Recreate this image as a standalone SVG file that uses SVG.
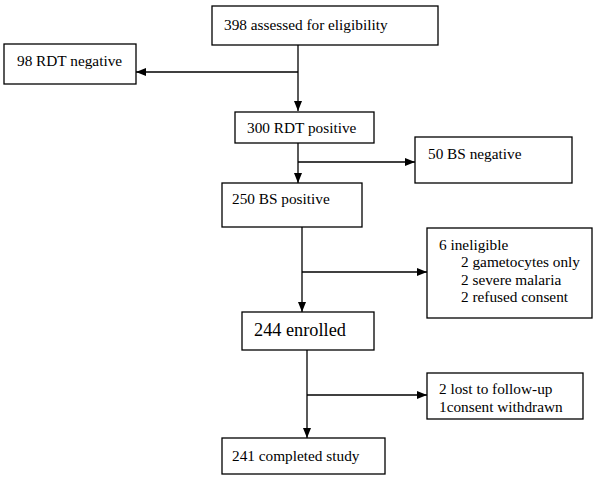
<svg xmlns="http://www.w3.org/2000/svg" width="600" height="478" viewBox="0 0 600 478">
<defs>
<marker id="ah" viewBox="0 0 10 10" refX="10" refY="5" markerWidth="10" markerHeight="10" markerUnits="userSpaceOnUse" orient="auto">
<path d="M0,1 L10,5 L0,9 Z" fill="#000"/>
</marker>
</defs>
<style>
.b{fill:#fff;stroke:#000;stroke-width:1.3}
.c{stroke:#000;stroke-width:1.3;fill:none}
</style>
<rect width="600" height="478" fill="#fff"/>
<g id="connectors">
<path class="c" d="M298,45 V111" marker-end="url(#ah)"/>
<path class="c" d="M298,72 H136" marker-end="url(#ah)"/>
<path class="c" d="M298,143 V183" marker-end="url(#ah)"/>
<path class="c" d="M298,162 H415" marker-end="url(#ah)"/>
<path class="c" d="M302,227 V312" marker-end="url(#ah)"/>
<path class="c" d="M302,272 H427" marker-end="url(#ah)"/>
<path class="c" d="M307,350 V438" marker-end="url(#ah)"/>
<path class="c" d="M307,395 H427" marker-end="url(#ah)"/>
</g>
<g id="n1"><rect class="b" x="212" y="6" width="226" height="39"/><text font-family="Liberation Serif" font-size="15.3" x="224" y="30">398 assessed for eligibility</text></g>
<g id="n2"><rect class="b" x="4" y="44" width="132" height="40"/><text font-family="Liberation Serif" font-size="15.3" x="17" y="66">98 RDT negative</text></g>
<g id="n3"><rect class="b" x="235" y="112" width="139" height="31"/><text font-family="Liberation Serif" font-size="15.3" x="247" y="133">300 RDT positive</text></g>
<g id="n4"><rect class="b" x="415" y="137" width="157" height="46"/><text font-family="Liberation Serif" font-size="15.3" x="428" y="159">50 BS negative</text></g>
<g id="n5"><rect class="b" x="222" y="183" width="140" height="44"/><text font-family="Liberation Serif" font-size="15.3" x="232" y="204">250 BS positive</text></g>
<g id="n6"><rect class="b" x="427" y="228" width="165" height="90"/>
<text font-family="Liberation Serif" font-size="15.3" x="439" y="250">6 ineligible</text>
<text font-family="Liberation Serif" font-size="15.3" x="461" y="267">2 gametocytes only</text>
<text font-family="Liberation Serif" font-size="15.3" x="461" y="285">2 severe malaria</text>
<text font-family="Liberation Serif" font-size="15.3" x="461" y="302">2 refused consent</text></g>
<g id="n7"><rect class="b" x="242" y="312" width="132" height="38"/><text font-family="Liberation Serif" font-size="18.3" x="254" y="336">244 enrolled</text></g>
<g id="n8"><rect class="b" x="427" y="373" width="156" height="46"/>
<text font-family="Liberation Serif" font-size="15.3" x="439" y="394">2 lost to follow-up</text>
<text font-family="Liberation Serif" font-size="15.3" x="439" y="412">1consent withdrawn</text></g>
<g id="n9"><rect class="b" x="222" y="438" width="163" height="36"/><text font-family="Liberation Serif" font-size="15.3" x="232" y="461">241 completed study</text></g>
</svg>
